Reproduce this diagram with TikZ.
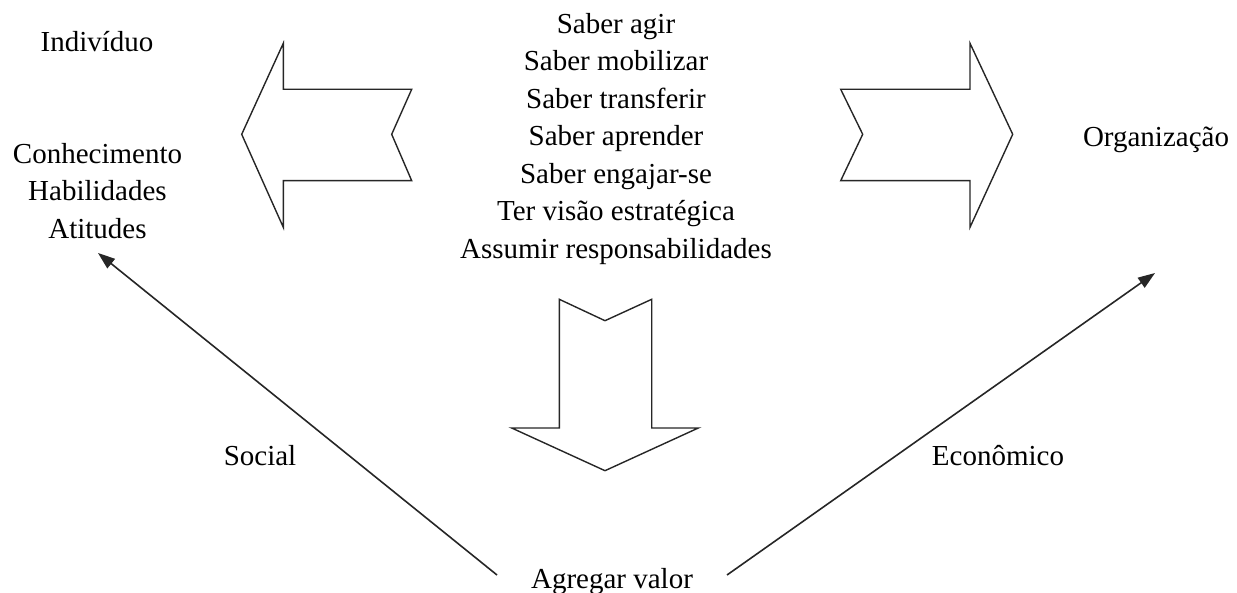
\documentclass[tikz,border=0pt]{standalone}
\usepackage{fontspec}
\setmainfont{Liberation Serif}
\usetikzlibrary{arrows.meta}
\tikzset{
  lbl/.style={inner sep=0pt, font=\fontsize{29}{37.5}\selectfont, align=center},
  bigarrow/.style={draw=black!85, line width=1.4pt, line join=miter, fill=white},
  conn/.style={draw=black!85, line width=1.6pt, -{Triangle[length=17pt,width=12pt]}}
}
\begin{document}
\begin{tikzpicture}[x=1pt,y=-1pt]
\useasboundingbox (0,0) rectangle (1237,593);
% block arrows
\draw[bigarrow] (241.7,134.3) -- (283.3,43.3) -- (283.3,89.3) -- (411.7,89.3) -- (391.7,134.3) -- (411.7,180.7) -- (283.3,180.7) -- (283.3,227.3) -- cycle;
\draw[bigarrow] (1012.7,134.3) -- (970,43.3) -- (970,89.3) -- (840.7,89.3) -- (862.7,134.3) -- (840.7,180.7) -- (970,180.7) -- (970,227.3) -- cycle;
\draw[bigarrow] (605,470.7) -- (511.7,428) -- (559.3,428) -- (559.3,299.3) -- (605,320.7) -- (651.7,299.3) -- (651.7,428) -- (698.3,428) -- cycle;
% texts
\node[lbl, anchor=base] (ind) at (97,52) {Indivíduo};
\node[lbl, anchor=north] (cha) at (97.5,143) {Conhecimento\\Habilidades\\Atitudes};
\node[lbl, anchor=north] (saber) at (616,13) {Saber agir\\Saber mobilizar\\Saber transferir\\Saber aprender\\Saber engajar-se\\Ter visão estratégica\\Assumir responsabilidades};
\node[lbl, anchor=base] (org) at (1156,147) {Organização};
\node[lbl, anchor=base] (soc) at (260,465) {Social};
\node[lbl, anchor=base] (eco) at (998,465) {Econômico};
\node[lbl, anchor=base] (agr) at (612,588) {Agregar valor};
% connectors
\coordinate (ls) at (497,575);
\coordinate (le) at (98,253);
\coordinate (rs) at (727,575);
\coordinate (re) at (1155,273);
\draw[conn] (ls) -- (le);
\draw[conn] (rs) -- (re);
\end{tikzpicture}
\end{document}
